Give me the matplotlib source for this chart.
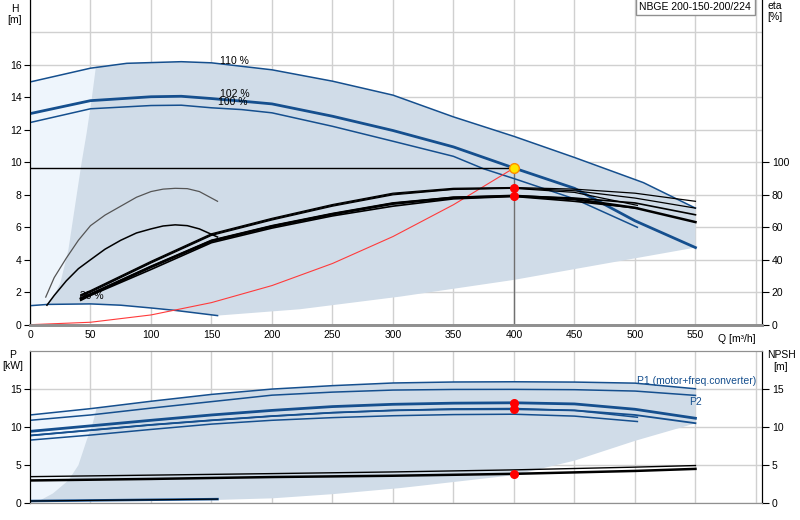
import numpy as np
import matplotlib
matplotlib.use("Agg")
import matplotlib.pyplot as plt

plt.rcParams['font.family'] = ['Liberation Sans', 'DejaVu Sans']

# ---- head curves (Q in m3/h, H in m)
q110 = [0, 50, 80, 125, 150, 200, 250, 300, 350, 400, 450, 507, 550]
h110 = [14.95, 15.8, 16.1, 16.2, 16.13, 15.7, 15.0, 14.14, 12.8, 11.6, 10.3, 8.75, 7.18]
q102 = [0, 50, 100, 125, 150, 175, 200, 250, 300, 350, 400, 450, 500, 550]
h102 = [13.0, 13.8, 14.04, 14.07, 13.93, 13.77, 13.6, 12.84, 11.96, 10.95, 9.65, 8.4, 6.4, 4.75]
q100 = [0, 50, 100, 125, 150, 175, 200, 250, 300, 350, 375, 400, 450, 502]
h100 = [12.45, 13.3, 13.5, 13.52, 13.36, 13.25, 13.05, 12.22, 11.3, 10.37, 9.6, 9.0, 7.75, 6.0]
q30 = [0, 15, 50, 75, 100, 120, 155]
h30 = [1.17, 1.25, 1.28, 1.2, 1.03, 0.88, 0.56]

# system curve and duty point
sys_q = [0, 50, 100, 150, 200, 250, 300, 350, 400]
sys_h = [0, 0.15, 0.6, 1.36, 2.41, 3.77, 5.43, 7.39, 9.65]
duty_q = 400
duty_h = 9.65
duty_eta = [84.2, 79.4]

# operating range boundaries (top chart)
edge_q = [15, 16.5, 25, 31.7, 38, 42.7, 46.8, 51, 54.5]
edge_h = [1.25, 1.33, 2.55, 4.6, 7.7, 10.0, 11.8, 13.9, 15.9]
bnd_q = [155, 223, 306, 400, 550]
bnd_h = [0.56, 0.95, 1.73, 2.76, 4.75]

# efficiency curves (%)
eta_q = [42, 50, 100, 150, 200, 250, 300, 350, 400, 450, 500, 550]
eta_p110 = [18.5, 21, 39, 56, 65.5, 74, 81, 84, 84.5, 83.5, 81, 76]
eta_p102 = [18, 20.5, 38.5, 55.5, 65, 73.5, 80.5, 83.5, 84.2, 82.5, 78, 71.8]
eta_t110 = [16.5, 19, 36, 52, 61, 68.5, 75, 78.5, 79.4, 78, 75, 67.7]
eta_t102 = [16, 18.5, 35.5, 51.5, 60.5, 68, 74.5, 78.2, 79.4, 77.3, 72, 63.2]
eta_q100 = [42, 50, 100, 150, 200, 250, 300, 350, 400, 450, 502]
eta_p100 = [17.5, 20, 38, 55, 64.5, 73, 80, 83.3, 84, 81.5, 73.5]
eta_t100 = [15, 18, 34, 50.5, 59.5, 67, 73, 77.5, 79, 76, 71.8]
eta30_q = [13, 20, 30, 40, 50, 62, 75, 88, 100, 110, 120, 130, 140, 155]
eta30_p = [17, 29, 41, 52, 61, 67.5, 73, 78.5, 82, 83.5, 84, 83.8, 82, 76]
eta30_tq = [14, 20, 30, 40, 50, 62, 75, 88, 100, 110, 120, 130, 140, 155]
eta30_t = [12, 18, 27, 34.5, 40, 46.5, 52, 56.5, 59, 60.8, 61.5, 61, 59, 54]

# ---- power curves (kW)
pq = [0, 50, 100, 150, 200, 250, 300, 350, 400, 450, 500, 550]
p1_110 = [11.6, 12.43, 13.4, 14.3, 15.0, 15.45, 15.8, 15.93, 15.96, 15.92, 15.78, 15.04]
p2_110 = [10.9, 11.6, 12.5, 13.35, 14.2, 14.6, 14.87, 14.95, 14.96, 14.92, 14.74, 14.17]
p1_102 = [9.45, 10.17, 10.9, 11.6, 12.2, 12.7, 13.0, 13.15, 13.2, 13.05, 12.35, 11.17]
p2_102 = [8.9, 9.6, 10.3, 10.9, 11.45, 11.9, 12.2, 12.33, 12.35, 12.2, 11.6, 10.52]
pq100 = [0, 50, 100, 150, 200, 250, 300, 350, 400, 450, 502]
p1_100 = [8.9, 9.6, 10.3, 10.9, 11.45, 11.9, 12.2, 12.4, 12.45, 12.2, 11.3]
p2_100 = [8.3, 8.96, 9.7, 10.4, 10.9, 11.25, 11.5, 11.65, 11.7, 11.45, 10.74]
p30_q = [0, 155]
p30 = [0.3, 0.55]
duty_p = [13.2, 12.35]

# NPSH (m)
npsh_q = [0, 100, 200, 300, 400, 500, 550]
npsh_hi = [3.5, 3.7, 3.9, 4.12, 4.39, 4.75, 4.96]
npsh_lo = [3.0, 3.2, 3.45, 3.62, 3.87, 4.25, 4.52]
duty_npsh = 3.87

# power chart range boundaries
pedge_q = [8, 19, 31.7, 40, 46.8, 51, 53.7, 55]
pedge_p = [0.35, 1.3, 3.0, 5.0, 8.26, 10.0, 11.6, 12.5]
pbnd_q = [155, 200, 250, 306, 400, 450, 500, 550]
pbnd_p = [0.45, 0.65, 1.2, 2.0, 3.7, 5.6, 8.2, 10.5]

blue = '#154f8e'
dark = '#d0dce8'
light = '#eef5fc'
gridc = '#d0d0d0'

fig = plt.figure(figsize=(8, 5.2), dpi=100)
ax = fig.add_axes([0.0375, 0.3756, 0.915, 0.6244])
ax2 = ax.twinx()
axp = fig.add_axes([0.0375, 0.0321, 0.915, 0.2929])
axn = axp.twinx()

# ---------- top chart
ax.set_xlim(0, 605)
ax.set_ylim(0, 20)
ax2.set_ylim(0, 200)

# light region
lq = [0, 50, 80]
ax.fill(lq + [80, 50, 15, 0],
        [np.interp(q, q110, h110) for q in lq] + [np.interp(q, q30, h30) for q in [80, 50, 15, 0]],
        color=light, lw=0, zorder=1)
# dark region
top_q = [q for q in q110 if q > 55]
top_h = [np.interp(q, q110, h110) for q in top_q]
back_q = [q for q in q30 if 15 < q < 155][::-1]
back_h = [np.interp(q, q30, h30) for q in back_q]
ax.fill(edge_q + top_q + bnd_q[::-1] + back_q,
        edge_h + top_h + bnd_h[::-1] + back_h,
        color=dark, lw=0, zorder=1)

ax.plot(q110, h110, color=blue, lw=1.1, zorder=3)
ax.plot(q102, h102, color=blue, lw=2.0, zorder=3)
ax.plot(q100, h100, color=blue, lw=1.1, zorder=3)
ax.plot(q30, h30, color=blue, lw=1.1, zorder=3)
ax.plot(sys_q, sys_h, color='#ff3b3b', lw=0.8, zorder=3)
ax.plot([0, duty_q], [duty_h, duty_h], color='black', lw=1.0, zorder=3)
ax.plot([duty_q, duty_q], [0, duty_h], color='#707070', lw=1.0, zorder=2)

ax.text(157, 16.23, '110 %', fontsize=7.5, va='center')
ax.text(157, 14.24, '102 %', fontsize=7.5, va='center')
ax.text(155, 13.7, '100 %', fontsize=7.5, va='center')
ax.text(41, 1.77, '30 %', fontsize=7.5, va='center')

ax2.plot(eta30_q, eta30_p, color='#555555', lw=0.9)
ax2.plot(eta30_tq, eta30_t, color='black', lw=1.1)
for q, e, w in [(eta_q, eta_p110, 0.9), (eta_q, eta_p102, 0.9), (eta_q100, eta_p100, 0.9),
                (eta_q, eta_t110, 1.2), (eta_q, eta_t102, 1.8), (eta_q100, eta_t100, 1.2)]:
    ax2.plot(q, e, color='black', lw=w)
ax2.plot([duty_q] * 2, duty_eta, 'o', color='red', ms=5.5, zorder=5)
ax.plot([duty_q], [duty_h], 'o', color='#ffe600', mec='#ff8c00', mew=1, ms=7, zorder=6)

ax.set_xticks(range(0, 601, 50))
ax.set_xticklabels([str(v) for v in range(0, 551, 50)] + [''])
ax.set_yticks(range(0, 17, 2))
ax.set_yticks([18], minor=True)
ax.grid(True, which='both', color=gridc, lw=1)
ax.set_axisbelow(True)
ax.tick_params(axis='x', length=0, pad=4, labelsize=7.5)
ax.tick_params(axis='y', length=4, pad=2, labelsize=7.5)
ax.tick_params(axis='y', which='minor', length=0)
ax2.set_yticks(range(0, 101, 20))
ax2.tick_params(axis='y', length=5, pad=2, labelsize=7.5)
for a in (ax, ax2):
    a.spines['top'].set_visible(False)
    a.spines['bottom'].set_color('#909090')
    a.spines['bottom'].set_linewidth(2)
ax.text(600, -0.55, 'Q [m³/h]', fontsize=7.5, ha='right', va='top')

fig.text(15 / 800, 1 - 9 / 520, 'H', fontsize=7.5, ha='center', va='center')
fig.text(15 / 800, 1 - 20 / 520, '[m]', fontsize=7.5, ha='center', va='center')
fig.text(775 / 800, 1 - 6 / 520, 'eta', fontsize=7.5, ha='center', va='center')
fig.text(775 / 800, 1 - 17 / 520, '[%]', fontsize=7.5, ha='center', va='center')
ax.text(0.985, 0.995, 'NBGE 200-150-200/224', transform=ax.transAxes, fontsize=7.5,
        ha='right', va='top', zorder=10,
        bbox=dict(boxstyle='square,pad=0.35', fc='white', ec='#909090', lw=1))

# ---------- bottom chart
axp.set_xlim(0, 605)
axp.set_ylim(0, 20)
axn.set_ylim(0, 20)

axp.fill([0, 50, 100, 100, 0],
         [p1_110[0], p1_110[1], p1_110[2], np.interp(100, p30_q, p30), p30[0]],
         color=light, lw=0, zorder=1)
ptop_q = [q for q in pq if q > 55]
ptop_p = [np.interp(q, pq, p1_110) for q in ptop_q]
axp.fill(pedge_q + ptop_q + pbnd_q[::-1],
         pedge_p + ptop_p + pbnd_p[::-1],
         color=dark, lw=0, zorder=1)

axp.plot(pq, p1_110, color=blue, lw=1.1, zorder=3)
axp.plot(pq, p2_110, color=blue, lw=1.1, zorder=3)
axp.plot(pq, p1_102, color=blue, lw=2.0, zorder=3)
axp.plot(pq, p2_102, color=blue, lw=1.3, zorder=3)
axp.plot(pq100, p1_100, color=blue, lw=1.1, zorder=3)
axp.plot(pq100, p2_100, color=blue, lw=1.1, zorder=3)
axp.plot(p30_q, p30, color=blue, lw=1.8, zorder=3)
axp.plot(p30_q, p30, color='black', lw=0.8, zorder=3)
axp.plot([duty_q] * 2, duty_p, 'o', color='red', ms=5.5, zorder=5)

axn.plot(npsh_q, npsh_hi, color='black', lw=1.0)
axn.plot(npsh_q, npsh_lo, color='black', lw=1.8)
axn.plot([duty_q], [duty_npsh], 'o', color='red', ms=5.5, zorder=5)

axp.text(501.5, 16.1, 'P1 (motor+freq.converter)', fontsize=7.5, color=blue, va='center')
axp.text(544.5, 13.25, 'P2', fontsize=7.5, color=blue, va='center')

axp.set_xticks(range(0, 601, 50))
axp.set_xticklabels([])
axp.set_yticks(range(0, 16, 5))
axn.set_yticks(range(0, 16, 5))
axp.grid(True, color=gridc, lw=1)
axp.set_axisbelow(True)
axp.tick_params(axis='x', length=0)
axp.tick_params(axis='y', length=4, pad=2, labelsize=7.5)
axn.tick_params(axis='y', length=5, pad=2, labelsize=7.5)
for a in (axp, axn):
    a.spines['top'].set_color('#909090')
    a.spines['bottom'].set_color('#909090')

fig.text(13 / 800, 1 - 355 / 520, 'P', fontsize=7.5, ha='center', va='center')
fig.text(13 / 800, 1 - 366 / 520, '[kW]', fontsize=7.5, ha='center', va='center')
fig.text(781 / 800, 1 - 355 / 520, 'NPSH', fontsize=7.5, ha='center', va='center')
fig.text(781 / 800, 1 - 367 / 520, '[m]', fontsize=7.5, ha='center', va='center')

fig.savefig('out.png', dpi=100)
